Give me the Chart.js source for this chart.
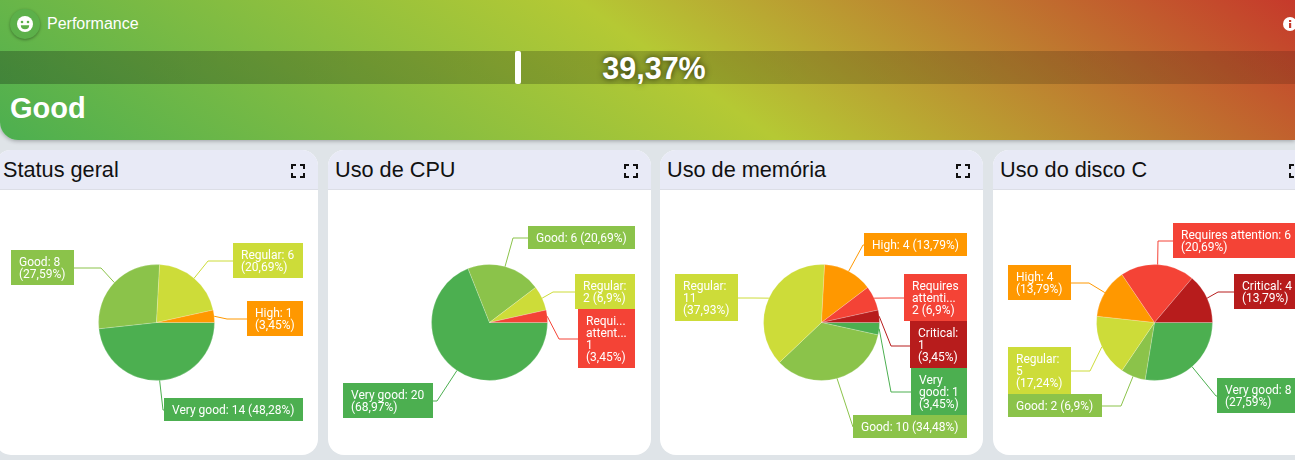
<!DOCTYPE html>
<html>
<head>
<meta charset="utf-8">
<title>Performance</title>
<script src="https://cdn.jsdelivr.net/npm/chart.js@4"></script>
<style>
    html, body { margin: 0; padding: 0; width: 1295px; height: 460px; overflow: hidden; background: #dfe4e8; font-family: "Liberation Sans", Arial, sans-serif; }
    #top { position: absolute; left: 0; top: 0; width: 1295px; height: 140px; border-bottom-left-radius: 18px; background: linear-gradient(35deg, #4caf50 0%, #b5c934 52%, #c6392b 100%); box-shadow: 0 1px 4px rgba(0,0,0,.3); }
    #smile { position: absolute; left: 10px; top: 9px; width: 30px; height: 30px; border-radius: 50%; background: #5cb04a; box-shadow: 0 1px 3px rgba(0,0,0,.35); }
    #perf { position: absolute; left: 47px; top: 15px; color: #fff; font-size: 16px; line-height: 18px; }
    #info { position: absolute; left: 1283px; top: 17px; }
    #band { position: absolute; left: 0; top: 51px; width: 1295px; height: 33px; background: linear-gradient(90deg, rgba(0,0,0,.25), rgba(0,0,0,.15)); }
    #marker { position: absolute; left: 515px; top: 0; width: 6px; height: 33px; border-radius: 2px; background: #fff; }
    #pct { position: absolute; left: 554px; width: 200px; top: 0; text-align: center; color: #fff; font-size: 30.5px; line-height: 34px; font-weight: bold; text-shadow: 0 0 6px rgba(0,0,0,.7); }
    #status { position: absolute; left: 10px; top: 91px; color: #fff; font-size: 29px; line-height: 34px; font-weight: bold; }
    .card { position: absolute; top: 150px; width: 323px; height: 305px; border-radius: 16px; background: #fff; overflow: hidden; }
    .card-header { position: absolute; left: 0; top: 0; width: 323px; height: 39px; background: #e8eaf6; border-bottom: 1px solid #dcdee6; }
    .card-header h3 { position: absolute; left: 7px; top: 6px; margin: 0; font-size: 21.7px; line-height: 27px; font-weight: normal; color: #111; white-space: nowrap; }
    .card:first-child .card-header h3 { left: 8px; }
    .card-header svg { position: absolute; left: 295px; top: 13px; }
    .card canvas { position: absolute; left: 0; top: 40px; }
</style>
</head>
<body>
<div id="top">
    <div id="smile">
        <svg width="30" height="30" viewBox="0 0 30 30">
            <circle cx="15" cy="15" r="8" fill="#fff"/>
            <circle cx="12" cy="13" r="1.3" fill="#5cb04a"/>
            <circle cx="18" cy="13" r="1.3" fill="#5cb04a"/>
            <path d="M10.8 16.2h8.4a4.2 4 0 0 1-8.4 0z" fill="#5cb04a"/>
        </svg>
    </div>
    <div id="perf">Performance</div>
    <svg id="info" width="14" height="14" viewBox="0 0 14 14">
        <circle cx="7" cy="7" r="7" fill="#fff"/>
        <rect x="6" y="6" width="2.2" height="5" fill="#c6392b"/>
        <rect x="6" y="3" width="2.2" height="2" fill="#c6392b"/>
    </svg>
    <div id="band">
        <div id="marker"></div>
        <div id="pct">39,37%</div>
    </div>
    <div id="status">Good</div>
</div>
<div id="cards"></div>

<script>
const categories = ['Very good', 'Good', 'Regular', 'High', 'Requires attention', 'Critical'];
const sliceColors = ['#4caf50', '#8bc34a', '#cddc39', '#ff9800', '#f44336', '#b71c1c'];

const titles = ['Status geral', 'Uso de CPU', 'Uso de memória', 'Uso do disco C'];

const statusValues = [14, 8, 6, 1, 0, 0];
const cpuValues = [20, 6, 2, 0, 1, 0];
const memoryValues = [1, 10, 11, 4, 2, 1];
const diskValues = [8, 2, 5, 4, 6, 4];
const allValues = [statusValues, cpuValues, memoryValues, diskValues];

const statusLabels = [['Very good: 14 (48,28%)'], ['Good: 8', '(27,59%)'], ['Regular: 6', '(20,69%)'], ['High: 1', '(3,45%)'], [], []];
const cpuLabels = [['Very good: 20', '(68,97%)'], ['Good: 6 (20,69%)'], ['Regular:', '2 (6,9%)'], [], ['Requi...', 'attent...', '1', '(3,45%)'], []];
const memoryLabels = [['Very', 'good: 1', '(3,45%)'], ['Good: 10 (34,48%)'], ['Regular:', '11', '(37,93%)'], ['High: 4 (13,79%)'], ['Requires', 'attenti...', '2 (6,9%)'], ['Critical:', '1', '(3,45%)']];
const diskLabels = [['Very good: 8', '(27,59%)'], ['Good: 2 (6,9%)'], ['Regular:', '5', '(17,24%)'], ['High: 4', '(13,79%)'], ['Requires attention: 6', '(20,69%)'], ['Critical: 4', '(13,79%)']];
const allLabels = [statusLabels, cpuLabels, memoryLabels, diskLabels];

// layout only: label box in page px [left, top, right, bottom] and the elbow of its leader line
const cardLefts = [-5, 328, 660, 993];
const statusBoxes = [[164, 398, 303, 421, 163, 410], [11, 250, 74, 285, 101, 268], [233, 243, 303, 278, 208, 261], [247, 301, 303, 336, 227, 319], null, null];
const cpuBoxes = [[343, 383, 433, 418, 437, 401], [528, 226, 635, 249, 513, 238], [575, 274, 635, 309, 553, 292], null, [578, 309, 635, 368, 559, 339], null];
const memoryBoxes = [[911, 368, 967, 415, 891, 392], [853, 415, 967, 438, 853, 427], [675, 274, 738, 321, 753, 298], [864, 233, 967, 256, 863, 245], [904, 274, 967, 321, 890, 298], [910, 321, 967, 368, 891, 346]];
const diskBoxes = [[1217, 378, 1300, 413, 1216, 396], [1008, 394, 1102, 417, 1121, 406], [1008, 347, 1071, 394, 1090, 371], [1008, 265, 1071, 300, 1089, 283], [1173, 223, 1320, 258, 1158, 241], [1234, 274, 1300, 309, 1218, 292]];
const allBoxes = [statusBoxes, cpuBoxes, memoryBoxes, diskBoxes];

const canvasTop = 190;

// draws the leader lines and coloured labels around the pie
const calloutPlugin = {
    id: 'callouts',
    afterDatasetsDraw(chart, args, opts) {
        const ctx = chart.ctx;
        const arcs = chart.getDatasetMeta(0).data;
        arcs.forEach((arc, i) => {
            const box = opts.boxes[i];
            if (!box) return;
            const left = box[0] - opts.cardLeft;
            const top = box[1] - canvasTop;
            const right = box[2] - opts.cardLeft;
            const bottom = box[3] - canvasTop;
            const elbowX = box[4] - opts.cardLeft;
            const elbowY = box[5] - canvasTop;
            const p = arc.getProps(['x', 'y', 'startAngle', 'endAngle', 'outerRadius'], true);
            const mid = (p.startAngle + p.endAngle) / 2;
            const edgeX = p.x + Math.cos(mid) * p.outerRadius;
            const edgeY = p.y + Math.sin(mid) * p.outerRadius;
            const boxX = elbowX < left ? left : (elbowX > right ? right : elbowX);

            ctx.save();
            ctx.strokeStyle = sliceColors[i];
            ctx.lineWidth = 1;
            ctx.beginPath();
            ctx.moveTo(edgeX, edgeY);
            ctx.lineTo(elbowX, elbowY);
            ctx.lineTo(boxX, elbowY);
            ctx.stroke();

            ctx.fillStyle = sliceColors[i];
            ctx.fillRect(left, top, right - left, bottom - top);

            const lines = opts.labels[i];
            ctx.fillStyle = '#fff';
            ctx.font = '12px Roboto';
            ctx.textBaseline = 'middle';
            const startY = (top + bottom) / 2 - (lines.length - 1) * 6 + 1;
            lines.forEach((line, n) => {
                ctx.fillText(line, left + 8, startY + n * 12);
            });
            ctx.restore();
        });
    }
};

function createCard(index) {
    const card = document.createElement('div');
    card.className = 'card';
    card.style.left = cardLefts[index] + 'px';
    card.innerHTML = `
        <div class="card-header">
            <h3>${titles[index]}</h3>
            <svg width="16" height="16" viewBox="0 0 16 16" fill="none" stroke="#111" stroke-width="2">
                <path d="M2 6V2h4M10 2h4v4M14 10v4h-4M6 14H2v-4"/>
            </svg>
        </div>
        <canvas id="chart-${index}" width="323" height="265"></canvas>
    `;
    document.querySelector('#cards').appendChild(card);
}

function createChart(index) {
    const canvas = document.getElementById(`chart-${index}`);
    new Chart(canvas.getContext('2d'), {
        type: 'pie',
        data: {
            labels: categories,
            datasets: [{
                data: allValues[index],
                backgroundColor: sliceColors,
                borderColor: 'rgba(255,255,255,0.2)',
                borderWidth: 1
            }]
        },
        options: {
            responsive: false,
            animation: false,
            rotation: 90,
            radius: 58,
            plugins: {
                legend: { display: false },
                tooltip: { enabled: false },
                callouts: {
                    boxes: allBoxes[index],
                    labels: allLabels[index],
                    cardLeft: cardLefts[index]
                }
            }
        },
        plugins: [calloutPlugin]
    });
}

titles.forEach((title, index) => {
    createCard(index);
    createChart(index);
});
</script>
</body>
</html>
